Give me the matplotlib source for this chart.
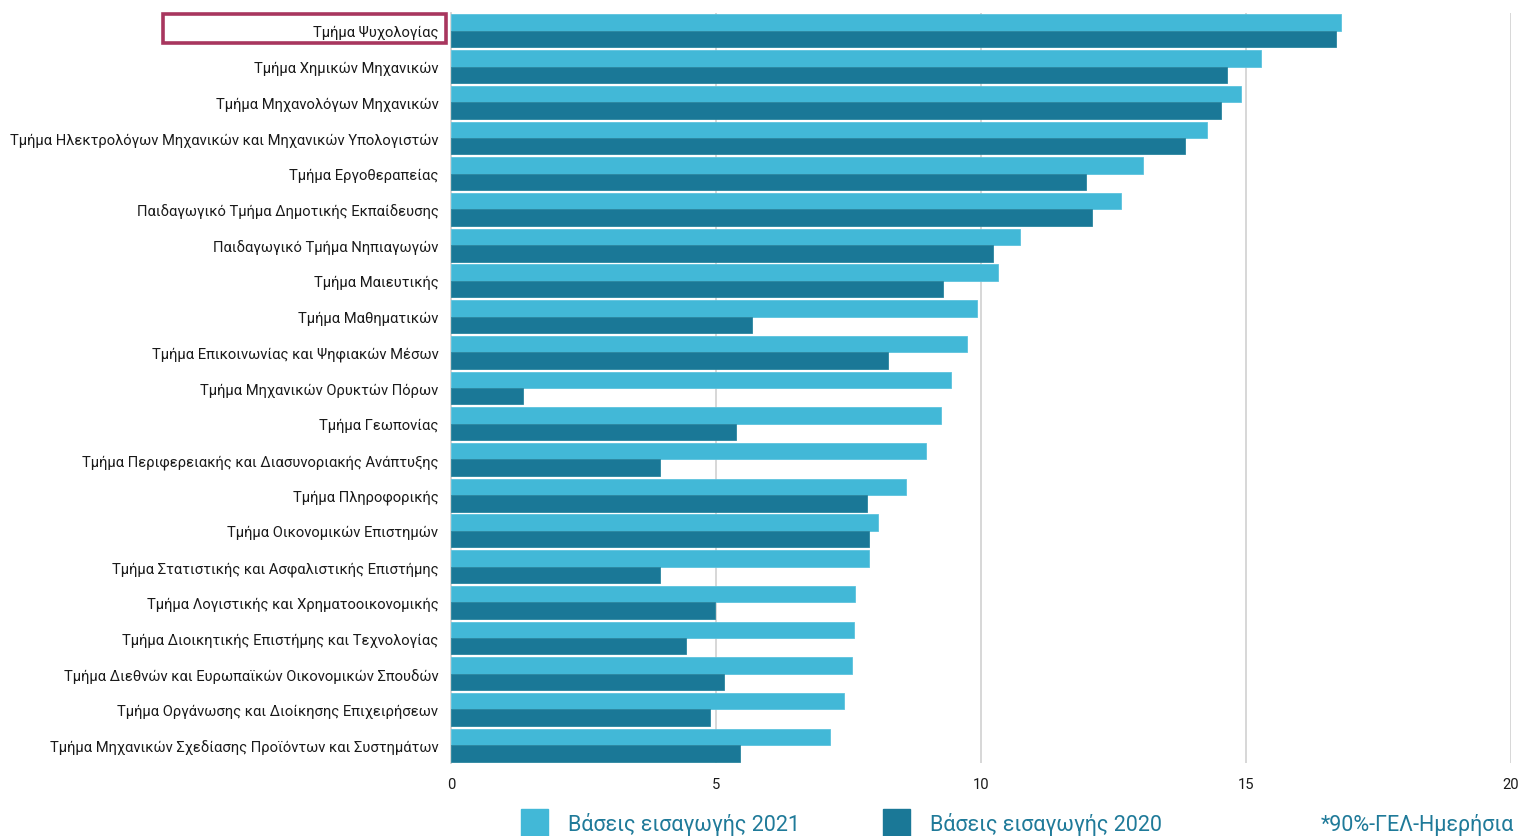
import matplotlib
matplotlib.use("Agg")
import matplotlib.pyplot as plt
from matplotlib import font_manager
from matplotlib.patches import Rectangle

# ------------------------------------------------------------
# DATA
# ------------------------------------------------------------

departments = [
    "Τμήμα Ψυχολογίας",
    "Τμήμα Χημικών Μηχανικών",
    "Τμήμα Μηχανολόγων Μηχανικών",
    "Τμήμα Ηλεκτρολόγων Μηχανικών και Μηχανικών Υπολογιστών",
    "Τμήμα Εργοθεραπείας",
    "Παιδαγωγικό Τμήμα Δημοτικής Εκπαίδευσης",
    "Παιδαγωγικό Τμήμα Νηπιαγωγών",
    "Τμήμα Μαιευτικής",
    "Τμήμα Μαθηματικών",
    "Τμήμα Επικοινωνίας και Ψηφιακών Μέσων",
    "Τμήμα Μηχανικών Ορυκτών Πόρων",
    "Τμήμα Γεωπονίας",
    "Τμήμα Περιφερειακής και Διασυνοριακής Ανάπτυξης",
    "Τμήμα Πληροφορικής",
    "Τμήμα Οικονομικών Επιστημών",
    "Τμήμα Στατιστικής και Ασφαλιστικής Επιστήμης",
    "Τμήμα Λογιστικής και Χρηματοοικονομικής",
    "Τμήμα Διοικητικής Επιστήμης και Τεχνολογίας",
    "Τμήμα Διεθνών και Ευρωπαϊκών Οικονομικών Σπουδών",
    "Τμήμα Οργάνωσης και Διοίκησης Επιχειρήσεων",
    "Τμήμα Μηχανικών Σχεδίασης Προϊόντων και Συστημάτων",
]

bases_2021 = [16.80, 15.28, 14.91, 14.26, 13.05, 12.65, 10.73, 10.32, 9.93,
              9.73, 9.43, 9.24, 8.97, 8.58, 8.05, 7.88, 7.62, 7.60, 7.57,
              7.42, 7.15]

bases_2020 = [16.70, 14.64, 14.52, 13.84, 11.99, 12.09, 10.22, 9.29, 5.67,
              8.24, 1.35, 5.38, 3.95, 7.84, 7.89, 3.95, 4.98, 4.43, 5.16,
              4.88, 5.46]

x_ticks = [0, 5, 10, 15, 20]

legend_labels = ["Βάσεις εισαγωγής 2021", "Βάσεις εισαγωγής 2020"]
note_text = "*90%-ΓΕΛ-Ημερήσια"

# ------------------------------------------------------------
# STYLE
# ------------------------------------------------------------

LIGHT = "#42b8d7"
DARK = "#1a7897"
BOX = "#a8365e"
GRID = "#d4d4d4"
TEXT = "#1a1a1a"

available = {f.name for f in font_manager.fontManager.ttflist}
if "Liberation Sans Narrow" in available:
    FONT = "Liberation Sans Narrow"
    LABEL_SIZE = 11.5
else:
    FONT = "Roboto"
    LABEL_SIZE = 10.6

plt.rcParams["font.family"] = [FONT, "DejaVu Sans"]

W, H = 1522, 837
fig = plt.figure(figsize=(W / 100, H / 100), dpi=100)

ax = fig.add_axes([451 / W, (H - 764) / H, (1511 - 451) / W, (764 - 14) / H])

n = len(departments)
pos = list(range(n))
bar_h = 0.46

ax.barh([p - bar_h / 2 for p in pos], bases_2021, height=bar_h,
        color=LIGHT, edgecolor="#5cc3de", linewidth=0.6, zorder=3)
ax.barh([p + bar_h / 2 for p in pos], bases_2020, height=bar_h,
        color=DARK, edgecolor="#2a869f", linewidth=0.6, zorder=3)

ax.set_ylim(n - 0.5, -0.5)
ax.set_xlim(0, 20)

ax.set_yticks(pos)
ax.set_yticklabels(departments, fontsize=LABEL_SIZE, color=TEXT)
ax.set_xticks(x_ticks)
ax.set_xticklabels([str(t) for t in x_ticks], fontsize=LABEL_SIZE, color=TEXT)

ax.tick_params(axis="y", length=0, pad=9)
ax.tick_params(axis="x", length=0, pad=10)

ax.grid(axis="x", color=GRID, linewidth=1.3, zorder=0)
for s in ["top", "right", "bottom"]:
    ax.spines[s].set_visible(False)
ax.spines["left"].set_color(GRID)
ax.spines["left"].set_linewidth(1.3)

# highlight box round the first label
fig.patches.append(Rectangle((163 / W, (H - 44) / H), (446 - 163) / W, 29 / H,
                             transform=fig.transFigure, fill=False,
                             edgecolor=BOX, linewidth=2.6))

# legend drawn by hand along the bottom
for x0, col, lab in [(521, LIGHT, legend_labels[0]), (883, DARK, legend_labels[1])]:
    fig.patches.append(Rectangle((x0 / W, 0), 27 / W, 27 / H,
                                 transform=fig.transFigure, color=col))
    fig.text((x0 + 47) / W, 12 / H, lab, fontsize=15.5, color="#1f7a99",
             va="center", ha="left")

fig.text(1514 / W, 12 / H, note_text, fontsize=15.5, color="#1f7a99",
         va="center", ha="right")

fig.savefig("out.png", dpi=100)
